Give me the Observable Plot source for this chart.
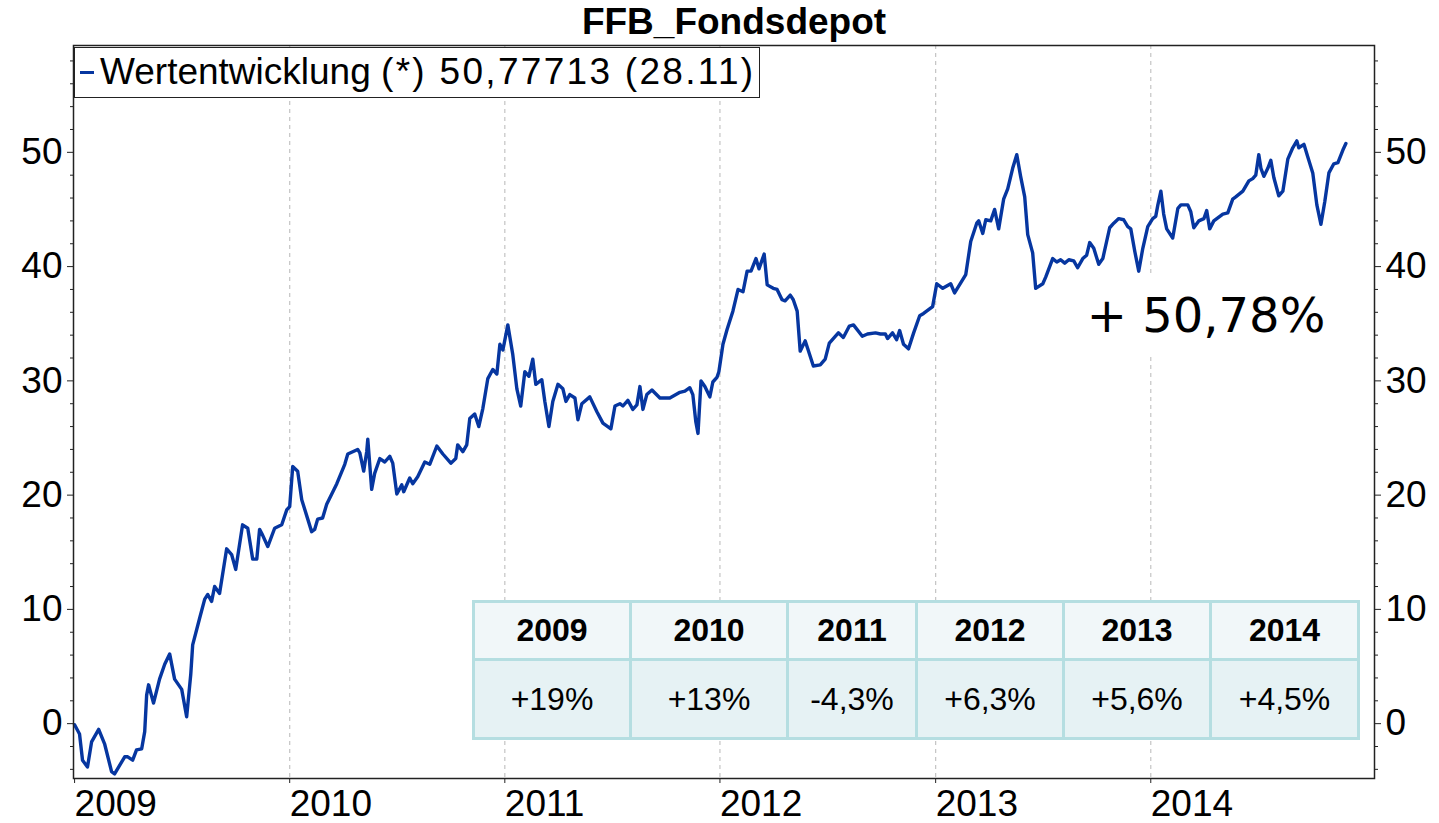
<!DOCTYPE html>
<html>
<head>
<meta charset="utf-8">
<script src="https://cdn.jsdelivr.net/npm/d3@7"></script>
<script src="https://cdn.jsdelivr.net/npm/@observablehq/plot@0.6"></script>
<style>
  html, body { margin: 0; padding: 0; background: #fff; }
  #wrap { position: relative; width: 1439px; height: 823px; overflow: hidden; font-family: "Liberation Sans", Arial, sans-serif; }
  #chart { position: absolute; left: 0; top: 0; }
  #title { position: absolute; top: 2px; left: 734px; transform: translateX(-50%); font-size: 37px; line-height: 40px; font-weight: bold; white-space: nowrap; color: #000; }
  #legend { position: absolute; left: 74px; top: 47px; height: 51px; box-sizing: border-box; border: 1.5px solid #222; background: #fff; white-space: nowrap; font-size: 37px; line-height: 48px; padding: 0 4px 0 5px; color: #000; }
  #legend .dash { display: inline-block; width: 14px; height: 3px; background: #0636a0; vertical-align: middle; margin-right: 6px; position: relative; top: -2px; }
  #legval { letter-spacing: 2.3px; }
  #big { position: absolute; left: 1078px; top: 275px; width: 256px; height: 80px; background: #fff; font-family: "DejaVu Sans", sans-serif; font-size: 48px; line-height: 80px; text-align: center; white-space: nowrap; color: #000; }
  #tbl { position: absolute; left: 472px; top: 600px; border-collapse: collapse; table-layout: fixed; }
  #tbl td { border: 3px solid #b5dee1; text-align: center; padding: 0; color: #000; }
  #tbl tr.h td { background: #f1f7f9; height: 55px; font-weight: bold; font-size: 32px; }
  #tbl tr.b td { background: #e6f2f4; height: 76px; font-size: 32px; }
</style>
</head>
<body>
<div id="wrap">
  <div id="chart"></div>
  <div id="title"></div>
  <div id="legend"><span class="dash"></span><span id="legname"></span> <span id="legval"></span></div>
  <div id="big"></div>
  <table id="tbl"><tr class="h" id="hrow"></tr><tr class="b" id="brow"></tr></table>
</div>
<script>
// ---- data ----
const chartTitle = "FFB_Fondsdepot";
const legendName = "Wertentwicklung";
const legendValue = "(*) 50,77713 (28.11)";
const totalLabel = "+ 50,78%";

// time as decimal years, value in percent
const decYears = [
2009.000,2009.023,2009.037,2009.060,2009.079,2009.112,2009.140,2009.172,2009.186,2009.233,
2009.247,2009.270,2009.288,2009.312,2009.326,2009.335,2009.344,2009.367,2009.395,2009.419,
2009.442,2009.465,2009.498,2009.521,2009.540,2009.549,2009.581,2009.605,2009.619,2009.637,
2009.651,2009.674,2009.707,2009.730,2009.749,2009.781,2009.805,2009.828,2009.847,2009.860,
2009.874,2009.898,2009.930,2009.963,2009.986,2010.000,2010.014,2010.037,2010.056,2010.084,
2010.102,2010.116,2010.130,2010.153,2010.172,2010.219,2010.256,2010.270,2010.316,2010.326,
2010.344,2010.358,2010.363,2010.381,2010.395,2010.419,2010.442,2010.465,2010.479,2010.498,
2010.521,2010.530,2010.558,2010.572,2010.595,2010.628,2010.651,2010.684,2010.712,2010.749,
2010.772,2010.781,2010.805,2010.823,2010.837,2010.860,2010.879,2010.898,2010.921,2010.944,
2010.963,2010.977,2010.991,2011.014,2011.037,2011.056,2011.074,2011.093,2011.112,2011.130,
2011.144,2011.172,2011.186,2011.205,2011.223,2011.247,2011.270,2011.284,2011.302,2011.326,
2011.340,2011.358,2011.395,2011.428,2011.456,2011.493,2011.512,2011.535,2011.549,2011.572,
2011.595,2011.614,2011.628,2011.642,2011.660,2011.684,2011.721,2011.767,2011.814,2011.837,
2011.860,2011.874,2011.888,2011.898,2011.912,2011.930,2011.953,2011.967,2011.986,2011.995,
2012.014,2012.033,2012.060,2012.084,2012.107,2012.126,2012.144,2012.167,2012.181,2012.205,
2012.219,2012.247,2012.265,2012.288,2012.302,2012.326,2012.340,2012.358,2012.372,2012.395,
2012.409,2012.433,2012.465,2012.488,2012.507,2012.549,2012.572,2012.600,2012.619,2012.660,
2012.684,2012.721,2012.744,2012.767,2012.777,2012.800,2012.819,2012.833,2012.851,2012.874,
2012.898,2012.926,2012.944,2012.986,2013.005,2013.033,2013.070,2013.088,2013.140,2013.163,
2013.191,2013.200,2013.219,2013.233,2013.256,2013.274,2013.293,2013.316,2013.335,2013.358,
2013.377,2013.395,2013.414,2013.428,2013.451,2013.465,2013.498,2013.512,2013.544,2013.563,
2013.581,2013.600,2013.619,2013.642,2013.660,2013.684,2013.702,2013.716,2013.735,2013.758,
2013.777,2013.809,2013.828,2013.851,2013.874,2013.893,2013.907,2013.926,2013.944,2013.963,
2013.986,2014.009,2014.023,2014.033,2014.047,2014.060,2014.074,2014.102,2014.126,2014.140,
2014.172,2014.186,2014.200,2014.223,2014.247,2014.260,2014.274,2014.293,2014.335,2014.358,
2014.381,2014.395,2014.428,2014.456,2014.474,2014.488,2014.502,2014.512,2014.526,2014.544,
2014.558,2014.572,2014.595,2014.614,2014.637,2014.660,2014.679,2014.688,2014.712,2014.730,
2014.753,2014.772,2014.791,2014.809,2014.828,2014.851,2014.870,2014.893,2014.907
];
const values = [
-0.1,-0.9,-3.2,-3.8,-1.6,-0.5,-1.8,-4.2,-4.4,-2.9,
-2.9,-3.2,-2.3,-2.2,-0.7,2.5,3.4,1.8,3.9,5.2,
6.1,3.9,3.0,0.6,4.3,6.9,9.2,10.9,11.3,10.7,
12.0,11.4,15.3,14.8,13.5,17.4,17.1,14.4,14.4,17.0,
16.5,15.5,17.1,17.4,18.7,19.0,22.5,22.1,19.6,17.9,
16.8,17.0,17.9,18.0,19.2,21.0,22.7,23.6,24.0,23.7,
22.1,23.8,24.9,20.5,21.9,23.2,22.9,23.4,22.8,20.1,
20.9,20.3,21.5,21.0,21.6,22.9,22.7,24.3,23.6,22.8,
23.2,24.4,23.8,24.4,26.7,27.1,26.0,27.6,30.2,31.0,
30.6,33.2,32.7,34.9,32.3,29.3,27.8,30.8,30.4,31.9,
29.7,30.1,28.2,26.0,28.2,29.7,29.3,28.2,28.8,28.5,
26.6,28.0,28.6,27.3,26.3,25.8,27.8,28.0,27.8,28.3,
27.5,27.9,29.5,27.5,28.8,29.2,28.5,28.5,29.0,29.1,
29.4,28.8,26.4,25.4,30.0,29.5,28.6,29.9,30.3,30.8,
33.2,34.5,36.1,38.0,37.8,39.6,39.6,40.7,39.8,41.1,
38.4,38.1,38.0,37.1,37.0,37.5,37.1,36.1,32.6,33.5,
32.7,31.3,31.4,31.9,33.3,34.2,33.8,34.8,34.9,33.9,
34.1,34.2,34.1,34.1,33.7,34.2,33.6,34.4,33.2,32.8,
34.2,35.7,35.9,36.5,38.5,38.1,38.5,37.7,39.3,42.2,
43.8,44.0,42.9,44.1,44.0,45.0,43.3,45.9,46.8,48.6,
49.8,47.9,46.1,42.8,41.2,38.1,38.5,39.1,40.7,40.4,
40.6,40.3,40.6,40.5,39.9,40.7,41.0,42.1,41.6,40.2,
40.7,43.4,43.8,44.2,44.1,43.5,43.3,41.3,39.6,41.6,
43.5,44.2,44.4,45.4,46.6,44.6,43.3,42.5,45.1,45.4,
45.4,44.8,43.4,44.0,44.2,44.9,43.3,44.0,44.6,44.7,
45.9,46.1,46.6,47.5,47.7,48.0,49.8,48.6,47.9,48.6,
49.3,47.8,46.2,46.6,49.4,50.4,51.0,50.4,50.7,49.6,
48.2,45.4,43.7,45.7,48.2,49.0,49.1,50.2,50.78
];

const xTickYears = [2009, 2010, 2011, 2012, 2013, 2014];
const yMajorTicks = [0, 10, 20, 30, 40, 50];
const yMinorTicks = [-4, -2, 2, 4, 6, 8, 12, 14, 16, 18, 22, 24, 26, 28, 32, 34, 36, 38, 42, 44, 46, 48, 52, 54, 56, 58];
const xDomainYears = [2008.995, 2015.040];
const yDomain = [-4.8, 59.35];

const tableYears = ["2009", "2010", "2011", "2012", "2013", "2014"];
const tableReturns = ["+19%", "+13%", "-4,3%", "+6,3%", "+5,6%", "+4,5%"];
const tableColWidths = [154, 154, 126, 144, 144, 145];

// ---- helpers ----
function toDate(y) {
  const Y = Math.floor(y + 1e-9);
  const a = Date.UTC(Y, 0, 1), b = Date.UTC(Y + 1, 0, 1);
  return new Date(a + (y - Y) * (b - a));
}
const series = decYears.map((t, i) => ({date: toDate(t), value: values[i]}));
const yearDates = xTickYears.map(y => toDate(y));

const fontFamily = '"Liberation Sans", Arial, sans-serif';

const chart = Plot.plot({
  width: 1439,
  height: 823,
  marginTop: 45,
  marginBottom: 45,
  marginLeft: 73,
  marginRight: 65,
  style: {fontFamily, background: "transparent", color: "#000"},
  x: {type: "utc", domain: xDomainYears.map(toDate), label: null},
  y: {domain: yDomain, label: null},
  marks: [
    Plot.gridX(yearDates.slice(1), {stroke: "#c4c4c4", strokeOpacity: 1, strokeWidth: 1.2, strokeDasharray: "4,4"}),
    Plot.line(series, {x: "date", y: "value", stroke: "#0636a0", strokeWidth: 3.4, strokeLinejoin: "round"}),
    Plot.frame({stroke: "#222", strokeWidth: 1.5}),
    Plot.axisY(yMajorTicks, {anchor: "left", tickSize: 6, tickPadding: 5, fontSize: 37, tickFormat: d => String(d), label: null, stroke: "#222"}),
    Plot.axisY(yMinorTicks, {anchor: "left", tickSize: 3, tickFormat: () => "", label: null, stroke: "#222"}),
    Plot.axisY(yMajorTicks, {anchor: "right", tickSize: 6, tickPadding: 5, fontSize: 37, tickFormat: d => String(d), label: null, stroke: "#222"}),
    Plot.axisY(yMinorTicks, {anchor: "right", tickSize: 3, tickFormat: () => "", label: null, stroke: "#222"}),
    Plot.axisX(yearDates, {anchor: "bottom", tickSize: 5, tickPadding: 6, fontSize: 37, textAnchor: "start", tickFormat: d3.utcFormat("%Y"), label: null, stroke: "#222"})
  ]
});
document.getElementById("chart").appendChild(chart);

document.getElementById("title").textContent = chartTitle;
document.getElementById("legname").textContent = legendName;
document.getElementById("legval").textContent = legendValue;
document.getElementById("big").textContent = totalLabel;

const hrow = document.getElementById("hrow");
const brow = document.getElementById("brow");
tableYears.forEach((y, i) => {
  const td = document.createElement("td");
  td.textContent = y;
  td.style.width = tableColWidths[i] + "px";
  hrow.appendChild(td);
  const tb = document.createElement("td");
  tb.textContent = tableReturns[i];
  brow.appendChild(tb);
});
</script>
</body>
</html>
